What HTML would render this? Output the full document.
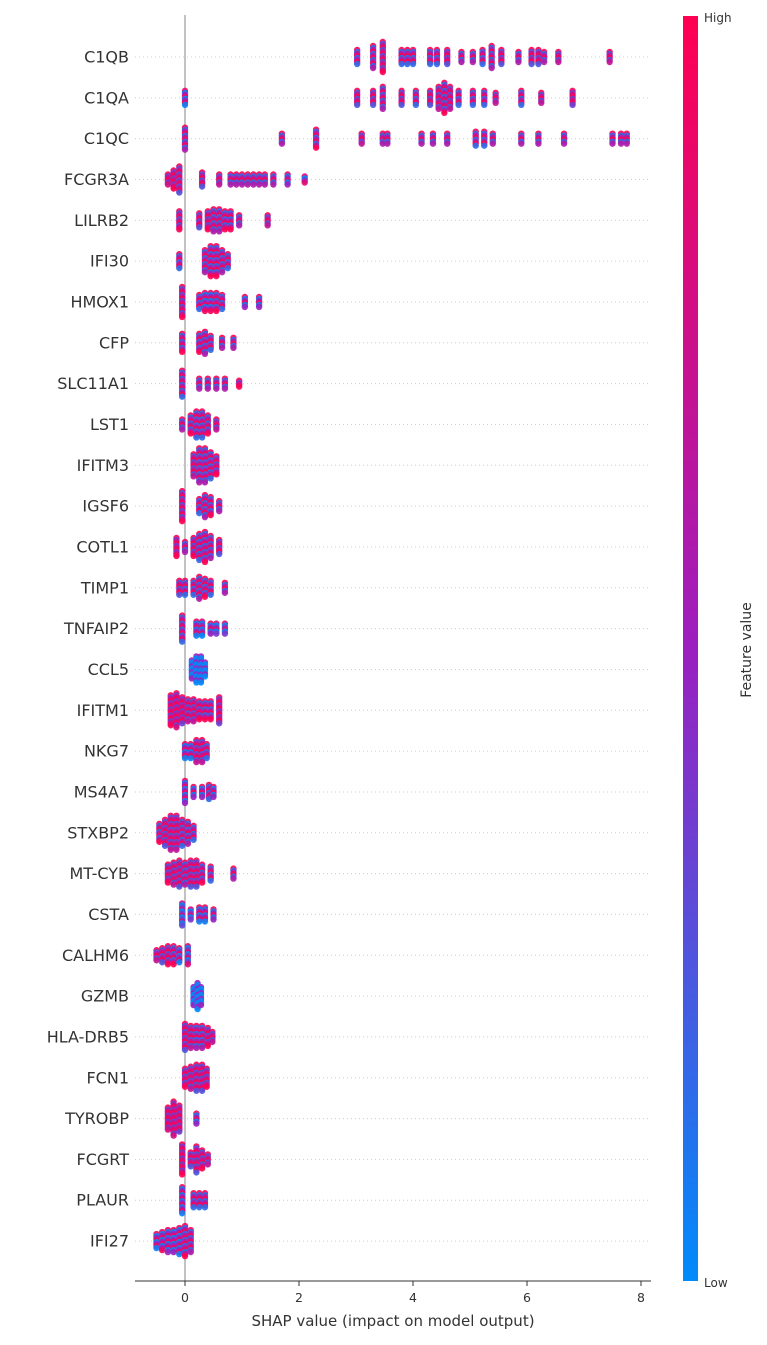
<!DOCTYPE html>
<html><head><meta charset="utf-8"><style>
body{margin:0;background:#fff;font-family:"Liberation Sans","DejaVu Sans",sans-serif}
svg text{font-family:"DejaVu Sans","Liberation Sans",sans-serif}
</style></head><body>
<svg id="chart" width="767" height="1340" xmlns="http://www.w3.org/2000/svg">
<defs><linearGradient id="cb" x1="0" y1="1" x2="0" y2="0">
<stop offset="0" stop-color="#008bfb"/><stop offset="0.5" stop-color="#9c1fbf"/><stop offset="1" stop-color="#ff0052"/></linearGradient></defs>
<g id="grid"></g><g id="dots"></g><g id="axes"></g>
<rect x="683" y="16" width="15" height="1265" fill="url(#cb)"/>
<text x="704" y="22" font-size="12" fill="#333">High</text>
<text x="704" y="1287" font-size="12" fill="#333">Low</text>
<text transform="translate(751,650) rotate(-90)" text-anchor="middle" font-size="14" fill="#333">Feature value</text>
<text x="393" y="1326" text-anchor="middle" font-size="15" fill="#333">SHAP value (impact on model output)</text>
</svg>
<script>
const features=["C1QB","C1QA","C1QC","FCGR3A","LILRB2","IFI30","HMOX1","CFP","SLC11A1","LST1","IFITM3","IGSF6","COTL1","TIMP1","TNFAIP2","CCL5","IFITM1","NKG7","MS4A7","STXBP2","MT-CYB","CSTA","CALHM6","GZMB","HLA-DRB5","FCN1","TYROBP","FCGRT","PLAUR","IFI27"];
const xTicks=[0,2,4,6,8];
// groups: [shap value, stacked count, mean feature value 0..1]
const values=[
[[3.02,8,.6],[3.3,12,.6],[3.47,16,.7],[3.8,8,.6],[3.9,8,.6],[4.0,8,.6],[4.3,8,.6],[4.42,8,.6],[4.6,8,.7],[4.85,6,.6],[5.05,6,.6],[5.22,8,.6],[5.38,12,.6],[5.55,8,.7],[5.85,6,.6],[6.08,8,.7],[6.2,8,.7],[6.3,6,.6],[6.55,6,.7],[7.45,6,.7]],
[[0,8,.5],[3.02,8,.7],[3.3,8,.7],[3.47,12,.6],[3.8,8,.7],[4.05,8,.6],[4.3,8,.7],[4.45,12,.7],[4.55,16,.6],[4.65,12,.7],[4.8,8,.6],[5.05,8,.6],[5.25,8,.6],[5.45,6,.7],[5.9,8,.6],[6.25,6,.7],[6.8,8,.8]],
[[0,12,.6],[1.7,6,.6],[2.3,10,.6],[3.1,6,.7],[3.47,6,.6],[3.55,6,.6],[4.15,6,.6],[4.35,6,.6],[4.6,6,.6],[5.1,8,.6],[5.25,8,.6],[5.4,6,.6],[5.9,6,.6],[6.2,6,.6],[6.65,6,.6],[7.5,6,.6],[7.65,6,.6],[7.75,6,.6]],
[[-0.3,6,.8],[-0.2,10,.8],[-0.1,14,.7],[0.3,8,.7],[0.6,6,.7],[0.8,6,.6],[0.9,6,.6],[1.0,6,.6],[1.1,6,.6],[1.2,6,.6],[1.3,6,.6],[1.4,6,.6],[1.55,6,.6],[1.8,6,.5],[2.1,4,.4]],
[[-0.1,10,.7],[0.25,8,.7],[0.4,10,.7],[0.5,12,.6],[0.6,12,.6],[0.7,10,.6],[0.8,10,.6],[0.95,6,.6],[1.45,6,.7]],
[[-0.1,8,.6],[0.35,12,.6],[0.45,16,.6],[0.55,16,.6],[0.65,12,.6],[0.75,8,.6]],
[[-0.05,16,.7],[0.25,8,.6],[0.35,10,.5],[0.45,10,.5],[0.55,10,.6],[0.65,8,.6],[1.05,6,.5],[1.3,6,.5]],
[[-0.05,10,.6],[0.25,10,.6],[0.35,12,.6],[0.45,8,.6],[0.65,6,.6],[0.85,6,.6]],
[[-0.05,14,.6],[0.25,6,.6],[0.4,6,.6],[0.55,6,.6],[0.7,6,.6],[0.95,4,.8]],
[[-0.05,6,.6],[0.1,10,.6],[0.2,14,.6],[0.3,14,.6],[0.4,10,.6],[0.55,6,.7]],
[[0.15,12,.7],[0.25,18,.6],[0.35,18,.6],[0.45,14,.6],[0.55,10,.7]],
[[-0.05,16,.7],[0.25,8,.6],[0.35,12,.6],[0.45,10,.6],[0.6,6,.6]],
[[-0.15,10,.8],[0,6,.6],[0.15,10,.7],[0.25,14,.6],[0.35,16,.6],[0.45,12,.6],[0.6,8,.7]],
[[-0.1,8,.7],[0,8,.6],[0.15,8,.6],[0.25,12,.6],[0.35,10,.6],[0.45,8,.6],[0.7,6,.6]],
[[-0.05,14,.6],[0.2,8,.5],[0.3,8,.4],[0.45,6,.5],[0.55,6,.4],[0.7,6,.4]],
[[0.12,10,.05],[0.2,14,.05],[0.28,14,.05],[0.35,8,.05]],
[[-0.25,16,.8],[-0.15,18,.8],[-0.05,14,.8],[0.05,12,.7],[0.15,12,.7],[0.25,10,.7],[0.35,10,.6],[0.45,10,.6],[0.6,14,.8]],
[[0,8,.5],[0.1,8,.5],[0.2,12,.7],[0.3,12,.7],[0.38,8,.6]],
[[0,12,.5],[0.15,6,.5],[0.3,6,.5],[0.42,8,.6],[0.5,6,.5]],
[[-0.45,10,.6],[-0.35,14,.7],[-0.25,18,.7],[-0.15,18,.7],[-0.05,14,.6],[0.05,12,.6],[0.15,8,.6]],
[[-0.3,10,.7],[-0.2,12,.7],[-0.1,14,.7],[0,12,.6],[0.1,14,.7],[0.2,14,.7],[0.3,10,.6],[0.45,8,.6],[0.85,6,.6]],
[[-0.05,12,.3],[0.1,6,.4],[0.25,8,.5],[0.35,8,.5],[0.5,6,.5]],
[[-0.5,6,.7],[-0.4,8,.7],[-0.3,10,.7],[-0.2,10,.6],[-0.1,8,.5],[0.05,10,.4]],
[[0.15,10,.05],[0.22,14,.05],[0.28,10,.05]],
[[0,14,.7],[0.1,12,.7],[0.2,12,.6],[0.3,12,.6],[0.4,10,.7],[0.48,6,.7]],
[[0,10,.7],[0.1,12,.7],[0.2,14,.7],[0.3,14,.7],[0.38,10,.7]],
[[-0.3,12,.8],[-0.2,18,.8],[-0.1,14,.8],[0.2,6,.5]],
[[-0.05,16,.8],[0.1,8,.7],[0.2,14,.7],[0.3,10,.7],[0.4,6,.7]],
[[-0.05,14,.5],[0.15,8,.6],[0.25,8,.6],[0.35,8,.6]],
[[-0.5,8,.5],[-0.4,10,.5],[-0.3,12,.5],[-0.2,12,.5],[-0.1,14,.5],[0,16,.6],[0.1,12,.6]]
];
const NS="http://www.w3.org/2000/svg";
const xS=v=>185+v*57, yS=i=>57+i*40.83;
function col(t){t=Math.max(0,Math.min(1,t));
 const a=[[0,139,251],[156,31,191],[255,0,82]];let c;
 if(t<.5){const u=t/.5;c=a[0].map((v,k)=>v+(a[1][k]-v)*u);}else{const u=(t-.5)/.5;c=a[1].map((v,k)=>v+(a[2][k]-v)*u);}
 return `rgb(${c.map(Math.round).join(',')})`;}
function mk(tag,attrs,parent){const e=document.createElementNS(NS,tag);for(const k in attrs)e.setAttribute(k,attrs[k]);parent.appendChild(e);return e;}
const grid=document.getElementById('grid'),dots=document.getElementById('dots'),axes=document.getElementById('axes');
features.forEach((f,i)=>{
 const y=yS(i);
 const gl=mk('line',{x1:135,x2:651,y1:y,y2:y,stroke:'#ccc','stroke-dasharray':'1,3','stroke-width':1},grid);
 
 
 const lb=mk('text',{x:129,y:y+5.5,'text-anchor':'end','font-size':16,fill:'#333'},axes);
 lb.textContent=f;
 
 
 const g=mk('g',{},dots);
 
 
 values[i].forEach(([v,n,c])=>{
  const x=xS(v),step=2;
  for(let j=0;j<n;j++){
   const off=(j-(n-1)/2)*step;
   const cc=j%3==0?c+0.45:(j%3==1?c-0.45:c);
   const d=mk('circle',{cx:x,cy:y+off,r:3.2,fill:col(cc),'fill-opacity':0.9},g);
   
   
  }
 });
});
const zl=mk('line',{x1:185,x2:185,y1:15,y2:1281,stroke:'#999','stroke-width':1.2},grid);


const ax=mk('line',{x1:135,x2:651,y1:1281,y2:1281,stroke:'#333','stroke-width':1},axes);


xTicks.forEach(t=>{
 const tk=mk('line',{x1:xS(t),x2:xS(t),y1:1281,y2:1286,stroke:'#333'},axes);
 
 
 const tl=mk('text',{x:xS(t),y:1302,'text-anchor':'middle','font-size':12.5,fill:'#333'},axes);
 tl.textContent=t;
 
 
});
</script>
</body></html>
